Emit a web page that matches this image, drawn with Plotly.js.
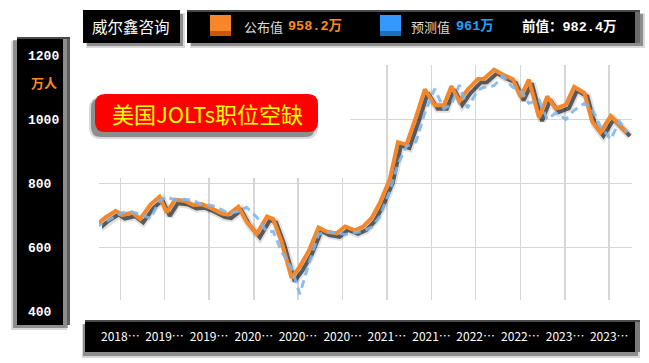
<!DOCTYPE html>
<html>
<head>
<meta charset="utf-8">
<script src="https://cdn.plot.ly/plotly-3.0.1.min.js"></script>
<style>html,body{margin:0;padding:0;background:#fff;}#chart{width:649px;height:363px;}</style>
</head>
<body>
<div id="chart"></div>
<script>
// ---- data (JOLTs job openings, 万) ----
const releaseDates = ['2018-08-07','2018-09-11','2018-10-16','2018-11-06','2018-12-11','2019-01-08','2019-02-12','2019-03-15','2019-04-09','2019-05-07','2019-06-10','2019-07-09','2019-08-06','2019-09-10','2019-10-15','2019-11-05','2019-12-10','2020-01-07','2020-02-11','2020-03-17','2020-04-07','2020-05-05','2020-06-09','2020-07-07','2020-08-07','2020-09-09','2020-10-06','2020-11-10','2020-12-09','2021-01-12','2021-02-09','2021-03-10','2021-04-06','2021-05-11','2021-06-08','2021-07-07','2021-08-09','2021-09-08','2021-10-12','2021-11-12','2021-12-08','2022-01-04','2022-02-01','2022-03-09','2022-03-29','2022-05-03','2022-06-01','2022-07-06','2022-08-02','2022-08-30','2022-10-04','2022-11-01','2022-11-30','2023-01-04','2023-02-01','2023-03-08','2023-04-04','2023-05-02','2023-06-06','2023-07-06','2023-08-01'];
const published = [666.2,693.9,713.6,700.9,707.9,688.8,733.5,758.1,708.7,748.8,744.9,732.3,734.8,721.7,705.1,702.4,726.7,680.0,642.3,696.3,688.2,619.1,504.6,539.7,588.9,661.8,649.3,643.6,665.2,652.7,664.6,691.7,736.7,812.3,928.6,920.9,1007.3,1093.4,1043.9,1043.8,1103.3,1056.2,1092.5,1126.3,1126.6,1154.9,1140.0,1125.4,1069.8,1123.9,1005.3,1071.7,1033.4,1045.8,1101.2,1082.4,993.1,959.0,1010.3,982.4,958.2];
const forecast = [662,680,697,708,710,703,690,745,757,748,750,747,733,731,717,706,712,725,694,648,650,588,535,454,548,640,648,645,640,645,650,663,695,775,860,915,930,1020,1095,1033,1047,1107,1035,1092,1100,1105,1135,1100,1090,1050,1060,1000,1020,1000,1028,1050,1030,978,938,993,961];
const tickDates = ['2018-11-01','2019-04-01','2019-09-01','2020-02-01','2020-07-01','2020-12-01','2021-05-01','2021-10-01','2022-03-01','2022-08-01','2023-01-01','2023-06-01'];
const tickLabels = ['2018…','2019…','2019…','2020…','2020…','2020…','2021…','2021…','2022…','2022…','2023…','2023…'];
const yTicks = [400,600,800,1000,1200];
const gridTicks = [600,800,1000];

const W = 649, H = 363;
const P = x => x / W;
const Q = y => 1 - y / H;
const xRange = ['2018-08-20','2023-08-18'];
const yRange = [435.3,1169.7];

function rect(x0,y0,x1,y1,fill,layer){
  return {type:'rect',xref:'paper',yref:'paper',x0:P(x0),x1:P(x1),y0:Q(y1),y1:Q(y0),fillcolor:fill,line:{width:0},layer:layer||'below'};
}
function rr(x0,y0,x1,y1,r,fill){
  const p=(x,y)=>P(x).toFixed(5)+','+Q(y).toFixed(5);
  const d='M'+p(x0+r,y0)+' L'+p(x1-r,y0)+' Q'+p(x1,y0)+' '+p(x1,y0+r)+' L'+p(x1,y1-r)+' Q'+p(x1,y1)+' '+p(x1-r,y1)+' L'+p(x0+r,y1)+' Q'+p(x0,y1)+' '+p(x0,y1-r)+' L'+p(x0,y0+r)+' Q'+p(x0,y0)+' '+p(x0+r,y0)+' Z';
  return {type:'path',xref:'paper',yref:'paper',path:d,fillcolor:fill,line:{width:0},layer:'above'};
}

const traces = [
  {x:releaseDates,y:published,xaxis:'x',yaxis:'y',mode:'lines',line:{width:0},opacity:0,hoverinfo:'skip',showlegend:false},
  {x:releaseDates,y:published,xaxis:'x2',yaxis:'y2',mode:'lines',line:{color:'rgba(0,0,0,0.12)',width:8},hoverinfo:'skip',showlegend:false},
  {x:releaseDates,y:published,xaxis:'x2',yaxis:'y2',mode:'lines',line:{color:'rgba(0,0,0,0.6)',width:4},hoverinfo:'skip',showlegend:false},
  {x:releaseDates,y:published,xaxis:'x3',yaxis:'y3',mode:'lines',name:'公布值',line:{color:'#f5872a',width:4},showlegend:false},
  {x:releaseDates,y:forecast,xaxis:'x3',yaxis:'y3',mode:'lines',name:'预测值',line:{color:'rgba(125,182,236,0.88)',width:3,dash:'8px,5px'},showlegend:false},
  {x:yTicks,y:yTicks,xaxis:'x4',yaxis:'y4',mode:'lines',line:{width:0},opacity:0,hoverinfo:'skip',showlegend:false}
];

const gridColor = '#d6d6d6';
const layout = {
  width:W,height:H,margin:{l:0,r:0,t:0,b:0},
  paper_bgcolor:'#ffffff',plot_bgcolor:'rgba(0,0,0,0)',showlegend:false,
  xaxis:{type:'date',domain:[P(99),P(632)],range:xRange,anchor:'y',tickmode:'array',tickvals:tickDates,ticktext:tickLabels,
    showgrid:true,gridcolor:gridColor,gridwidth:1.5,zeroline:false,showline:false,ticks:'outside',ticklen:26,tickcolor:'rgba(0,0,0,0)',
    tickfont:{family:'Noto Sans CJK SC, Liberation Sans, sans-serif',size:12,color:'#ffffff'},fixedrange:true},
  yaxis:{domain:[Q(300),Q(65)],range:yRange,anchor:'x',tickmode:'array',tickvals:gridTicks,showticklabels:false,ticks:'',
    showgrid:true,gridcolor:gridColor,gridwidth:1.5,zeroline:false,showline:false,fixedrange:true},
  xaxis2:{type:'date',domain:[P(102),P(635)],range:xRange,anchor:'y2',visible:false,fixedrange:true},
  yaxis2:{domain:[Q(303.5),Q(68.5)],range:yRange,anchor:'x2',visible:false,fixedrange:true},
  xaxis3:{type:'date',domain:[P(99),P(632)],range:xRange,anchor:'y3',visible:false,fixedrange:true},
  yaxis3:{domain:[Q(300),Q(65)],range:yRange,anchor:'x3',visible:false,fixedrange:true},
  xaxis4:{domain:[0,0.015],anchor:'y4',visible:false,fixedrange:true},
  yaxis4:{domain:[Q(311.3),Q(55.3)],range:[400,1200],anchor:'free',position:P(27),side:'right',tickmode:'array',tickvals:yTicks,
    showgrid:false,zeroline:false,showline:false,ticks:'',
    tickfont:{family:'Liberation Mono, DejaVu Sans Mono, monospace',size:13,color:'#ffffff',weight:'bold'},fixedrange:true},
  shapes:[
    {type:'rect',xref:'x',yref:'y',x0:'2018-08-01',x1:'2020-12-27',y0:817,y1:1200,fillcolor:'#ffffff',line:{width:0},layer:'between'},
    rect(86,13,185,48,'rgba(0,0,0,0.15)'),rect(87,14,183,46,'rgba(0,0,0,0.35)'),rect(83,10,180,43,'#000000'),
    rect(190,13,645,48,'rgba(0,0,0,0.15)'),rect(191,14,643,46,'rgba(0,0,0,0.35)'),rect(187,10,640,43,'#000000'),rect(187,10,640,12,'#4a4a4a'),
    rect(635,12,640,43,'#6a6a6a'),
    rect(11,41,67,330,'rgba(0,0,0,0.15)'),rect(13,40,68,328,'rgba(0,0,0,0.35)'),rect(17,37,70,325,'#000000'),
    rect(63,37,70,325,'#8c8c8c'),rect(67,37,70,325,'#5e5e5e'),rect(17,37,70,39,'#4a4a4a'),
    rect(82,324,640,358,'rgba(0,0,0,0.15)'),rect(83,324,638,356,'rgba(0,0,0,0.35)'),rect(85,320,640,352,'#000000'),
    rect(85,320,640,322,'#4a4a4a'),rect(635,322,640,352,'#7a7a7a'),
    rect(210,15,231,31,'#f7862a','above'),rect(210,31,231,36,'#c8580c','above'),
    rect(380,15,401,31,'#3399ff','above'),rect(380,31,401,36,'#1a6fc0','above'),
    rr(89,97,318,139,12,'rgba(0,0,0,0.15)'),rr(91,98,315,137,10,'rgba(0,0,0,0.35)'),rr(95,94,318,132,10,'#ff0000')
  ],
  annotations:[
    {xref:'paper',yref:'paper',x:P(131),y:Q(26),text:'威尔鑫咨询',showarrow:false,xanchor:'center',yanchor:'middle',
      font:{family:'Noto Sans CJK SC',size:15.5,color:'#ffffff'}},
    {xref:'paper',yref:'paper',x:P(242),y:Q(26),text:'公布值',showarrow:false,xanchor:'left',yanchor:'middle',
      font:{family:'Noto Sans CJK SC',size:13,color:'#dddddd'}},
    {xref:'paper',yref:'paper',x:P(286),y:Q(26),text:published[published.length-1].toFixed(1)+'万',showarrow:false,xanchor:'left',yanchor:'middle',
      font:{family:'Liberation Mono, Noto Sans CJK SC',size:13.5,color:'#ff8a1c',weight:'bold'}},
    {xref:'paper',yref:'paper',x:P(409),y:Q(26),text:'预测值',showarrow:false,xanchor:'left',yanchor:'middle',
      font:{family:'Noto Sans CJK SC',size:13,color:'#dddddd'}},
    {xref:'paper',yref:'paper',x:P(454),y:Q(26),text:String(forecast[forecast.length-1])+'万',showarrow:false,xanchor:'left',yanchor:'middle',
      font:{family:'Liberation Mono, Noto Sans CJK SC',size:13.5,color:'#1ea0ff',weight:'bold'}},
    {xref:'paper',yref:'paper',x:P(520),y:Q(26),text:'前值：'+published[published.length-2].toFixed(1)+'万',showarrow:false,xanchor:'left',yanchor:'middle',
      font:{family:'Liberation Mono, Noto Sans CJK SC',size:13.5,color:'#ffffff',weight:'bold'}},
    {xref:'paper',yref:'paper',x:P(29),y:Q(82),text:'万人',showarrow:false,xanchor:'left',yanchor:'middle',
      font:{family:'Noto Sans CJK SC',size:13,color:'#ff8a1c',weight:'bold'}},
    {xref:'paper',yref:'paper',x:P(207),y:Q(113),text:'美国JOLTs职位空缺',showarrow:false,xanchor:'center',yanchor:'middle',
      font:{family:'Noto Sans CJK SC',size:22,color:'#ffff00'}}
  ]
};

Plotly.newPlot('chart',traces,layout,{staticPlot:true,displayModeBar:false});
</script>
</body>
</html>
